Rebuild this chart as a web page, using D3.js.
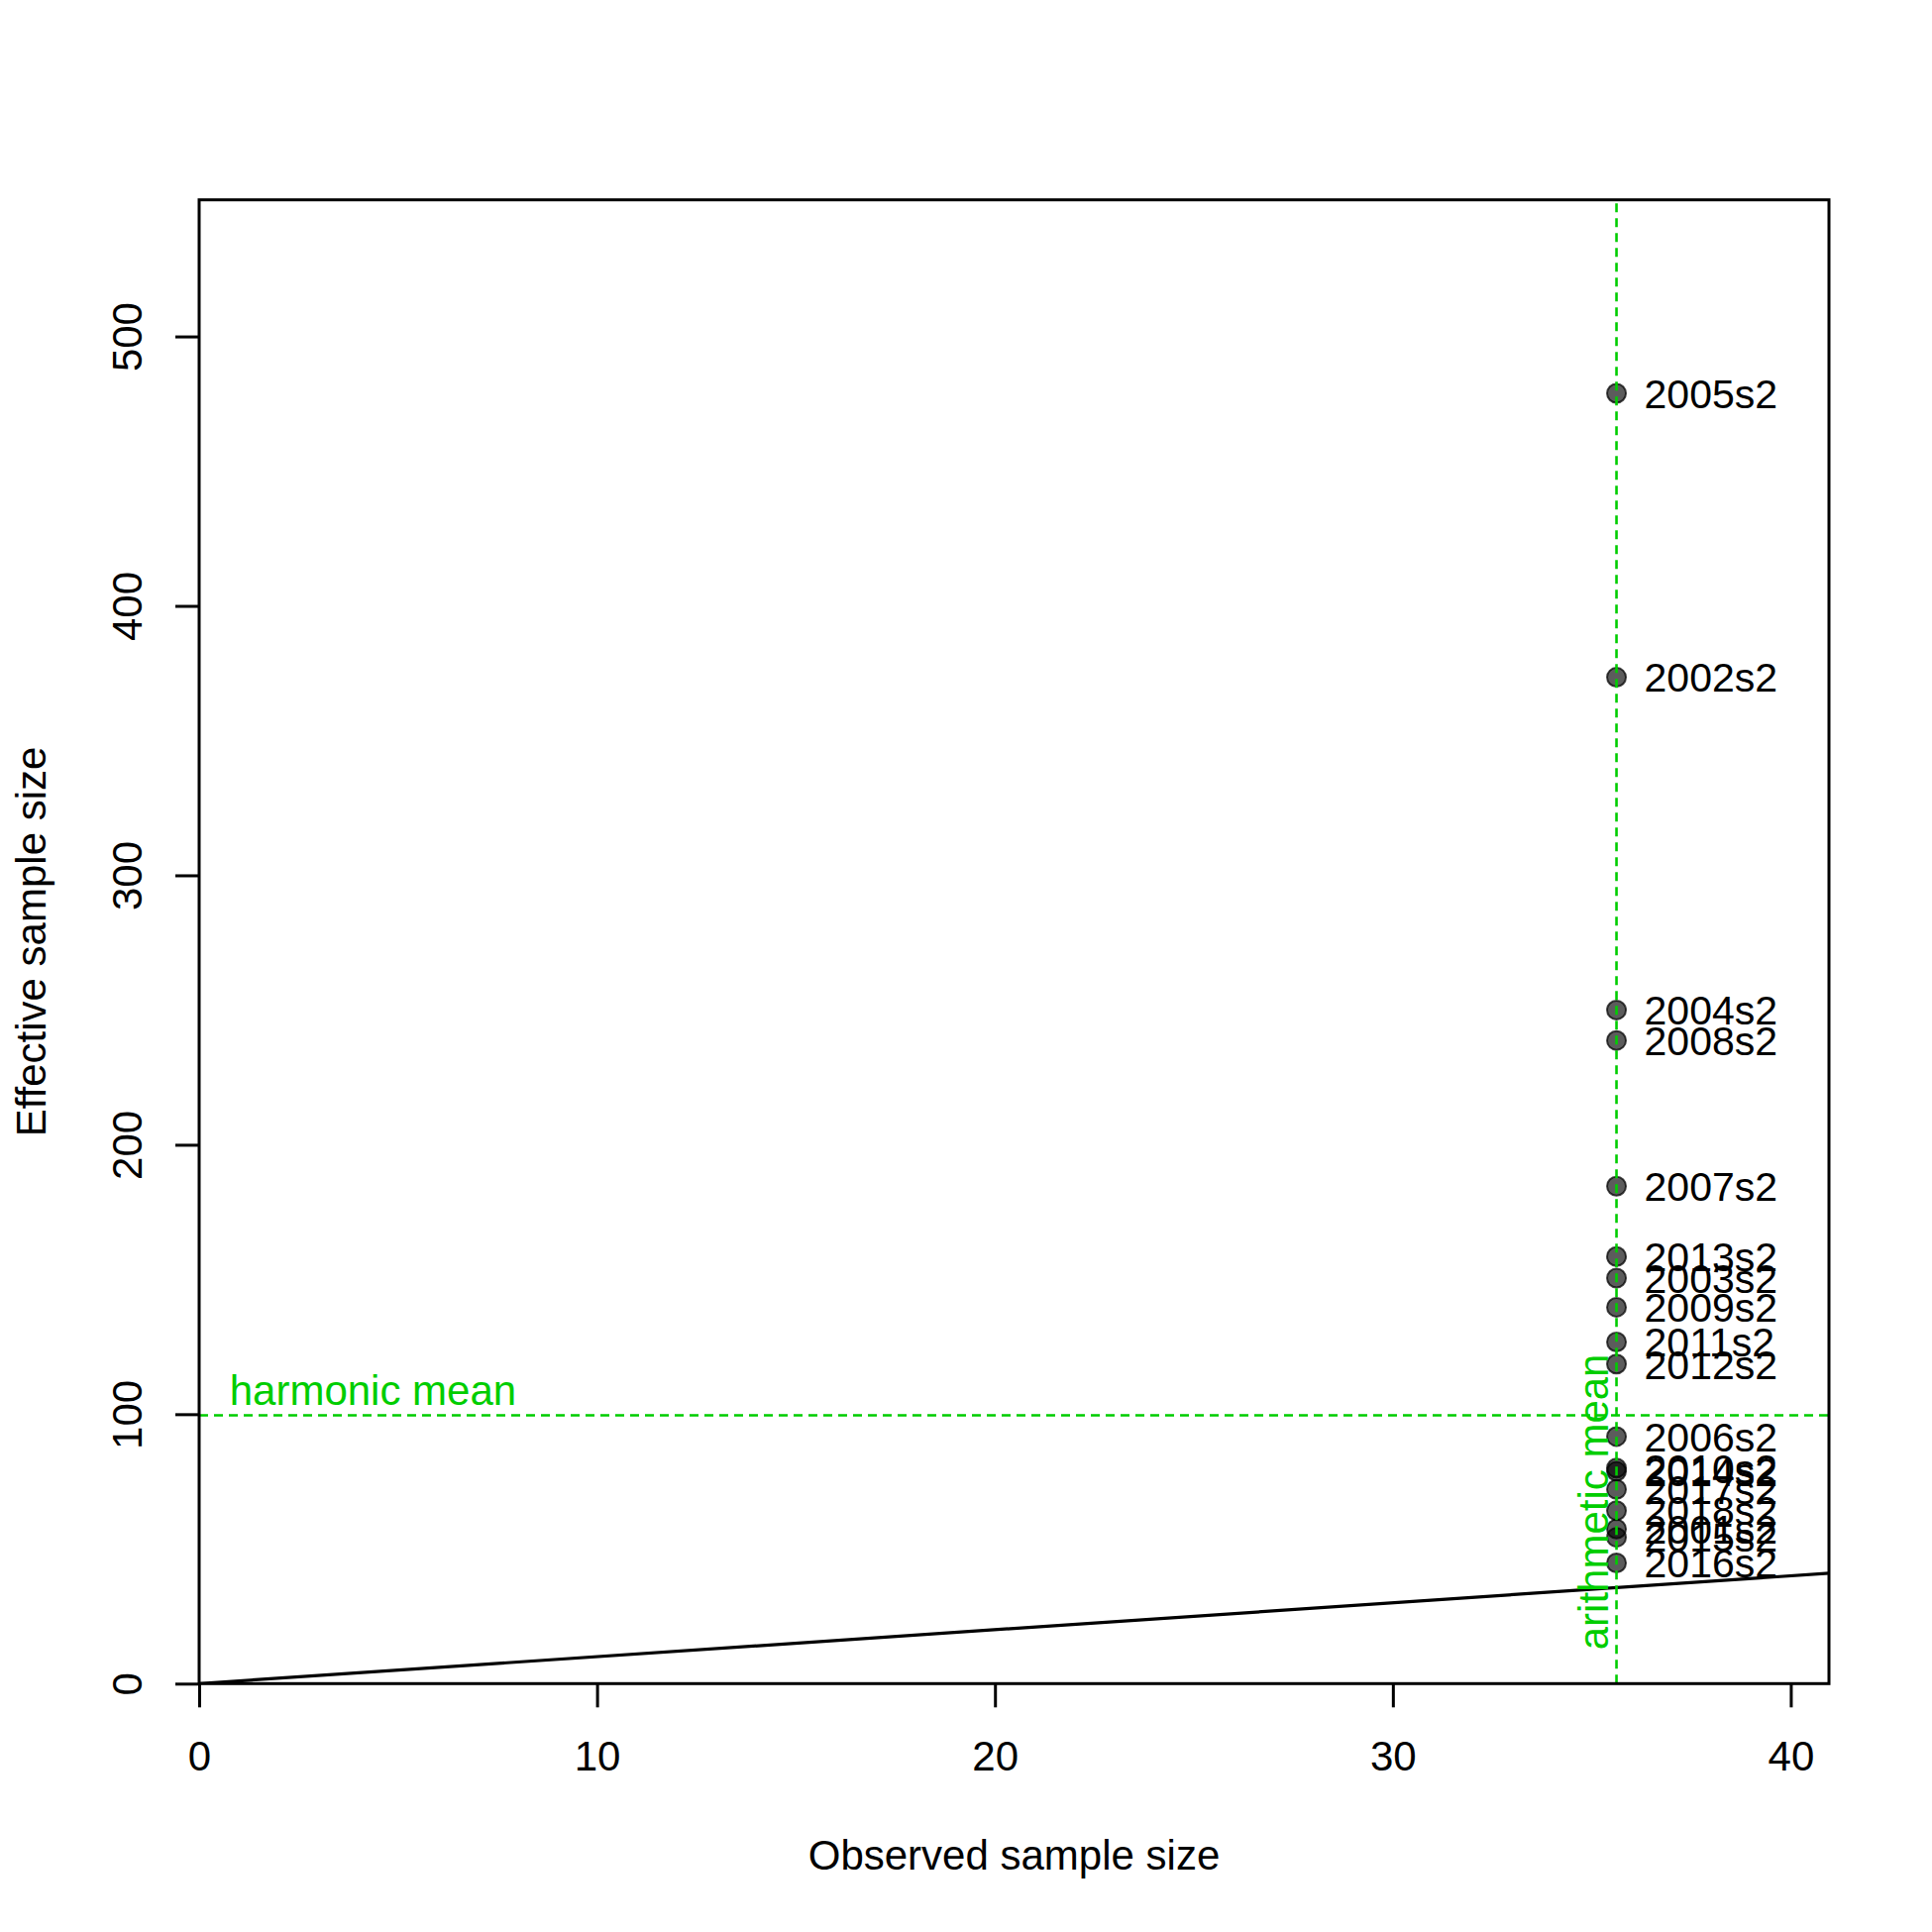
<!DOCTYPE html>
<html>
<head>
<meta charset="utf-8">
<script src="https://cdn.jsdelivr.net/npm/d3@7"></script>
<style>
  body { margin: 0; background: #fff; }
  svg { display: block; font-family: "Liberation Sans", Arial, sans-serif; }
</style>
</head>
<body>
<div class="app"></div>
<script>
// data
var labels = ["2001s2","2002s2","2003s2","2004s2","2005s2","2006s2","2007s2","2008s2","2009s2",
              "2010s2","2011s2","2012s2","2013s2","2014s2","2015s2","2016s2","2017s2","2018s2"];
var observed = [35.62,35.62,35.62,35.62,35.62,35.62,35.62,35.62,35.62,
                35.62,35.62,35.62,35.62,35.62,35.62,35.62,35.62,35.62];
var effective = [57.4,373.5,150.5,250.0,478.9,91.7,184.6,238.7,139.7,
                 80.0,126.8,118.6,158.5,78.8,54.3,44.8,72.1,64.2];
var xTicks = [0,10,20,30,40];
var yTicks = [0,100,200,300,400,500];
var harmonicMean = 99.6;
var arithmeticMean = 35.62;
var xMax = 40.96, yMax = 550.7;

var W = 1950, H = 1950;
var margin = {top: 201.7, right: 104, bottom: 250.7, left: 201};
var green = "#00cd00";
var fontSize = 42;
var labelSize = 41;

var x = d3.scaleLinear().domain([0, xMax]).range([margin.left, W - margin.right]);
var y = d3.scaleLinear().domain([0, yMax]).range([H - margin.bottom, margin.top]);

var svg = d3.select(".app").append("svg")
    .attr("width", W)
    .attr("height", H);

svg.append("rect").attr("width", W).attr("height", H).attr("fill", "#fff");

svg.append("clipPath").attr("id", "plotclip")
  .append("rect")
    .attr("x", x(0)).attr("y", y(yMax))
    .attr("width", x(xMax) - x(0)).attr("height", y(0) - y(yMax));

var data = labels.map(function(d, i) {
  return {label: d, obs: observed[i], neff: effective[i]};
});

var plot = svg.append("g").attr("clip-path", "url(#plotclip)");

// points
plot.selectAll("circle")
    .data(data)
  .enter().append("circle")
    .attr("cx", function(d) { return x(d.obs); })
    .attr("cy", function(d) { return y(d.neff); })
    .attr("r", 9.5)
    .attr("fill", "rgba(0,0,0,0.64)")
    .attr("stroke", "rgba(0,0,0,0.72)")
    .attr("stroke-width", 2);

// 1:1 line
plot.append("line")
    .attr("x1", x(0)).attr("y1", y(0))
    .attr("x2", x(xMax)).attr("y2", y(xMax))
    .attr("stroke", "#000")
    .attr("stroke-width", 3.2);

// mean lines
plot.append("line")
    .attr("x1", x(0)).attr("x2", x(xMax))
    .attr("y1", y(harmonicMean)).attr("y2", y(harmonicMean))
    .attr("stroke", green).attr("stroke-width", 2.6)
    .attr("stroke-dasharray", "9,6");

plot.append("line")
    .attr("x1", x(arithmeticMean)).attr("x2", x(arithmeticMean))
    .attr("y1", y(0)).attr("y2", y(yMax))
    .attr("stroke", green).attr("stroke-width", 2.6)
    .attr("stroke-dasharray", "9,6");

// point labels
svg.append("g").selectAll("text")
    .data(data)
  .enter().append("text")
    .attr("x", function(d) { return x(d.obs) + 28; })
    .attr("y", function(d) { return y(d.neff); })
    .attr("dy", "0.36em")
    .attr("font-size", labelSize)
    .attr("fill", "#000")
    .text(function(d) { return d.label; });

svg.append("text")
    .attr("x", x(0) + 30.7)
    .attr("y", y(harmonicMean) - 10)
    .attr("font-size", fontSize)
    .attr("fill", green)
    .text("harmonic mean");

svg.append("text")
    .attr("transform", "translate(" + (x(arithmeticMean) - 9) + "," + (y(0) - 34) + ")rotate(-90)")
    .attr("font-size", fontSize)
    .attr("fill", green)
    .text("arithmetic mean");

// frame
svg.append("rect")
    .attr("x", x(0)).attr("y", y(yMax))
    .attr("width", x(xMax) - x(0)).attr("height", y(0) - y(yMax))
    .attr("fill", "none")
    .attr("stroke", "#000")
    .attr("stroke-width", 3);

// x axis
var xAxis = svg.append("g")
    .attr("transform", "translate(0," + y(0) + ")")
    .call(d3.axisBottom(x).tickValues(xTicks).tickSize(24).tickSizeOuter(0).tickFormat(d3.format("d")));
xAxis.select(".domain").remove();
xAxis.selectAll("line").attr("stroke", "#000").attr("stroke-width", 3);
xAxis.selectAll("text")
    .attr("y", 88)
    .attr("dy", 0)
    .attr("font-size", fontSize)
    .attr("font-family", "Liberation Sans, Arial, sans-serif")
    .attr("fill", "#000");

// y axis
var yAxis = svg.append("g")
    .attr("transform", "translate(" + x(0) + ",0)")
    .call(d3.axisLeft(y).tickValues(yTicks).tickSize(24).tickSizeOuter(0).tickFormat(d3.format("d")));
yAxis.select(".domain").remove();
yAxis.selectAll("line").attr("stroke", "#000").attr("stroke-width", 3);
yAxis.selectAll("text")
    .attr("transform", "rotate(-90)")
    .attr("x", 0)
    .attr("y", -57.7)
    .attr("dy", 0)
    .attr("text-anchor", "middle")
    .attr("font-size", fontSize)
    .attr("font-family", "Liberation Sans, Arial, sans-serif")
    .attr("fill", "#000");

// axis titles
svg.append("text")
    .attr("x", (x(0) + x(xMax)) / 2)
    .attr("y", 1887)
    .attr("text-anchor", "middle")
    .attr("font-size", fontSize)
    .text("Observed sample size");

svg.append("text")
    .attr("transform", "translate(46," + ((y(0) + y(yMax)) / 2) + ")rotate(-90)")
    .attr("text-anchor", "middle")
    .attr("font-size", fontSize)
    .text("Effective sample size");
</script>
</body>
</html>
